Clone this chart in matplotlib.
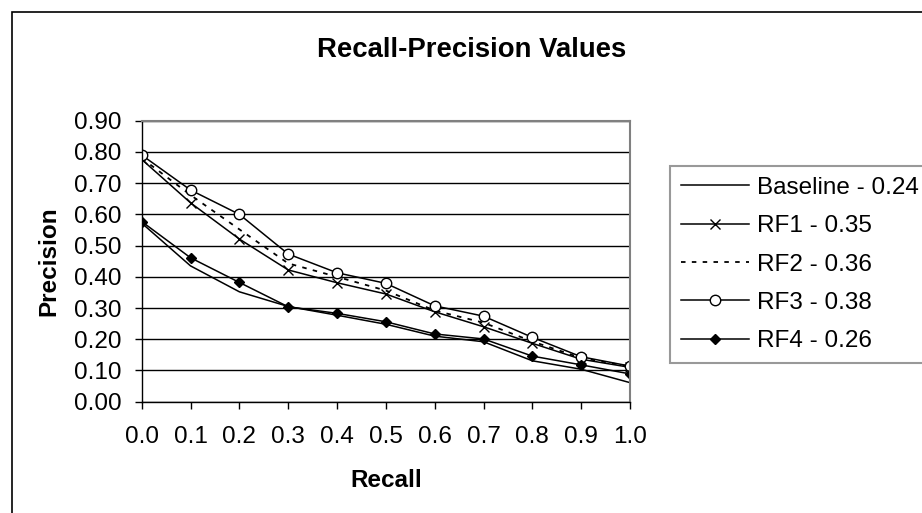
import matplotlib.pyplot as plt
from matplotlib.patches import Rectangle

plt.rcParams['font.family'] = ['Liberation Sans', 'DejaVu Sans']

# Data
recall = ['0.0', '0.1', '0.2', '0.3', '0.4', '0.5', '0.6', '0.7', '0.8', '0.9', '1.0']
baseline = [0.572, 0.435, 0.352, 0.305, 0.277, 0.248, 0.210, 0.192, 0.131, 0.104, 0.061]
rf1 = [0.776, 0.637, 0.521, 0.422, 0.381, 0.345, 0.288, 0.240, 0.187, 0.136, 0.110]
rf2 = [0.780, 0.662, 0.552, 0.443, 0.400, 0.356, 0.292, 0.253, 0.193, 0.140, 0.113]
rf3 = [0.790, 0.678, 0.600, 0.473, 0.413, 0.379, 0.307, 0.274, 0.206, 0.144, 0.114]
rf4 = [0.577, 0.461, 0.382, 0.304, 0.283, 0.256, 0.217, 0.201, 0.146, 0.118, 0.089]
labels = ['Baseline - 0.24', 'RF1 - 0.35', 'RF2 - 0.36', 'RF3 - 0.38', 'RF4 - 0.26']
y_ticks = [0.0, 0.1, 0.2, 0.3, 0.4, 0.5, 0.6, 0.7, 0.8, 0.9]

W, H = 922, 513
fig = plt.figure(figsize=(W / 100, H / 100), dpi=100)

# plot area in pixels: left 141.7, right 630, top 120.7, bottom 401.7
ax = fig.add_axes([141.7 / W, 1 - 401.7 / H, (630 - 141.7) / W, (401.7 - 120.7) / H])

x = list(range(len(recall)))
ax.plot(x, baseline, color='black', lw=1.1, label=labels[0])
ax.plot(x, rf1, color='black', lw=1.1, marker='x', ms=7, mew=1.0, label=labels[1])
ax.plot(x, rf2, color='black', lw=1.3, linestyle=(0, (2.5, 3.5)), label=labels[2])
ax.plot(x, rf3, color='black', lw=1.1, marker='o', ms=7.5, mfc='white', mew=1.0, label=labels[3])
ax.plot(x, rf4, color='black', lw=1.1, marker='D', ms=5.5, label=labels[4])

ax.set_xlim(0, len(recall) - 1)
ax.set_ylim(0, 0.9)
ax.set_xticks(x)
ax.set_xticklabels(recall)
ax.set_yticks(y_ticks)
ax.set_yticklabels([f'{v:.2f}' for v in y_ticks])
ax.tick_params(axis='both', labelsize=17.5, direction='out', length=5, width=1, color='black')
ax.tick_params(axis='x', pad=12.5)
ax.tick_params(axis='y', pad=9.4)

ax.yaxis.grid(True, color='black', lw=1.0)
ax.set_axisbelow(True)
for side in ['left', 'bottom']:
    ax.spines[side].set_color('black')
    ax.spines[side].set_linewidth(1.0)
for side in ['top', 'right']:
    ax.spines[side].set_color('#808080')
    ax.spines[side].set_linewidth(1.5)

ax.set_xlabel('Recall', fontsize=17.5, fontweight='bold')
ax.xaxis.label.set_va('baseline')
ax.xaxis.set_label_coords(0.5, -85.6 / 281)
ax.set_ylabel('Precision', fontsize=17.5, fontweight='bold')
ax.yaxis.label.set_va('center')
ax.yaxis.set_label_coords(-92.7 / 488.3, 0.5)

fig.text(471.7 / W, 1 - 56.7 / H, 'Recall-Precision Values', fontsize=19.8,
         fontweight='bold', ha='center', va='baseline')

leg = ax.legend(loc='upper left', bbox_to_anchor=(670 / W, 1 - 166 / H),
                bbox_transform=fig.transFigure, fontsize=17.5, frameon=True,
                fancybox=False, borderaxespad=0, borderpad=0.45, handlelength=2.8,
                handletextpad=0.32, labelspacing=0.67)
leg.get_frame().set_edgecolor('#808080')
leg.get_frame().set_linewidth(1.5)

# outer chart border, running off the right and bottom edges
fig.patches.append(Rectangle((12 / W, -0.1), 1.2, 1 - 12 / H + 0.1, transform=fig.transFigure,
                             fill=False, edgecolor='black', lw=1.2))

fig.savefig('out.png', dpi=100)
